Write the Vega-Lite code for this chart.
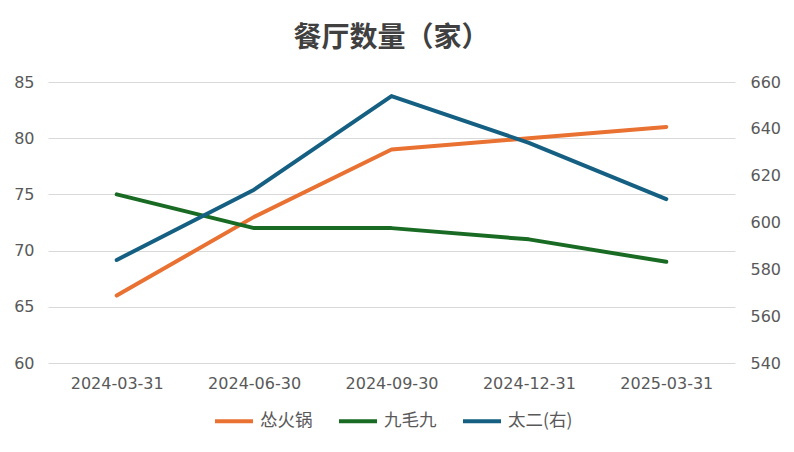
{
  "$schema": "https://vega.github.io/schema/vega-lite/v6.json",
  "width": 687,
  "height": 281,
  "autosize": {"type": "none"},
  "padding": {"left": 48, "top": 82, "right": 59, "bottom": 89},
  "background": "white",
  "title": {
    "text": "餐厅数量（家）",
    "fontSize": 28,
    "fontWeight": "bold",
    "color": "#404040",
    "font": "Noto Sans CJK SC",
    "anchor": "middle",
    "offset": 21
  },
  "config": {
    "view": {"stroke": null},
    "font": "Noto Sans CJK SC",
    "axis": {
      "labelFont": "DejaVu Sans",
      "labelFontSize": 16,
      "labelColor": "#595959",
      "ticks": false,
      "domain": false,
      "title": null
    }
  },
  "data": {
    "values": [
      {"date": "2024-03-31", "series": "怂火锅", "value": 66},
      {"date": "2024-06-30", "series": "怂火锅", "value": 73},
      {"date": "2024-09-30", "series": "怂火锅", "value": 79},
      {"date": "2024-12-31", "series": "怂火锅", "value": 80},
      {"date": "2025-03-31", "series": "怂火锅", "value": 81},
      {"date": "2024-03-31", "series": "九毛九", "value": 75},
      {"date": "2024-06-30", "series": "九毛九", "value": 72},
      {"date": "2024-09-30", "series": "九毛九", "value": 72},
      {"date": "2024-12-31", "series": "九毛九", "value": 71},
      {"date": "2025-03-31", "series": "九毛九", "value": 69},
      {"date": "2024-03-31", "series": "太二(右)", "value": 584},
      {"date": "2024-06-30", "series": "太二(右)", "value": 614},
      {"date": "2024-09-30", "series": "太二(右)", "value": 654},
      {"date": "2024-12-31", "series": "太二(右)", "value": 634},
      {"date": "2025-03-31", "series": "太二(右)", "value": 610}
    ]
  },
  "encoding": {
    "x": {
      "field": "date",
      "type": "ordinal",
      "scale": {"type": "point", "padding": 0.5},
      "axis": {"labelAngle": 0, "labelPadding": 12, "grid": false}
    },
    "color": {
      "field": "series",
      "type": "nominal",
      "scale": {
        "domain": ["怂火锅", "九毛九", "太二(右)"],
        "range": ["#E97132", "#196B24", "#156082"]
      },
      "legend": {
        "title": null,
        "orient": "none",
        "direction": "horizontal",
        "legendX": 165,
        "legendY": 318,
        "symbolType": "stroke",
        "symbolSize": 1444,
        "symbolStrokeWidth": 4,
        "labelFontSize": 17.5,
        "labelColor": "#595959",
        "labelOffset": 5,
        "columnPadding": 18,
        "labelFont": "Noto Sans CJK SC"
      }
    }
  },
  "layer": [
    {
      "transform": [{"filter": "datum.series !== '太二(右)'"}],
      "mark": {"type": "line", "strokeWidth": 4, "strokeCap": "round", "strokeJoin": "round"},
      "encoding": {
        "y": {
          "field": "value",
          "type": "quantitative",
          "scale": {"domain": [60, 85], "zero": false, "nice": false},
          "axis": {"values": [60, 65, 70, 75, 80, 85], "grid": true, "gridColor": "#d9d9d9", "gridWidth": 1, "labelPadding": 14}
        }
      }
    },
    {
      "transform": [{"filter": "datum.series === '太二(右)'"}],
      "mark": {"type": "line", "strokeWidth": 4, "strokeCap": "round", "strokeJoin": "round"},
      "encoding": {
        "y": {
          "field": "value",
          "type": "quantitative",
          "scale": {"domain": [540, 660], "zero": false, "nice": false},
          "axis": {"orient": "right", "values": [540, 560, 580, 600, 620, 640, 660], "grid": false, "labelPadding": 15}
        }
      }
    }
  ],
  "resolve": {"scale": {"y": "independent"}}
}
